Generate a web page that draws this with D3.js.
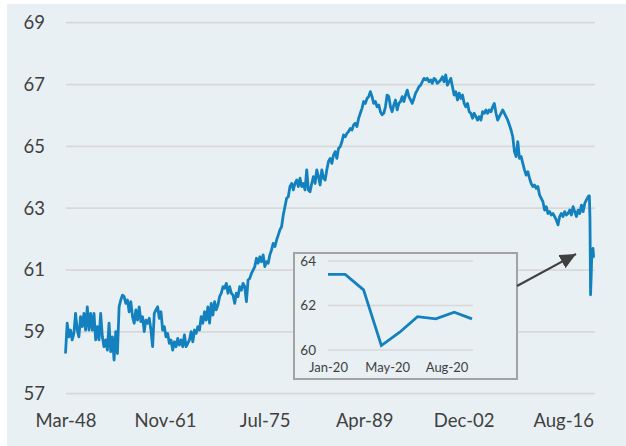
<!DOCTYPE html>
<html>
<head>
<meta charset="utf-8">
<script src="https://cdn.jsdelivr.net/npm/d3@7"></script>
<style>
  html, body { margin: 0; padding: 0; background: #ffffff; }
  svg { display: block; }
  text { font-family: Lato, "Open Sans", sans-serif; }
</style>
</head>
<body>
<svg id="chart" width="626" height="446"></svg>
<script>
// ---- Data ----
// x-axis tick labels and their month offsets from Mar-48
const tickLabels = ["Mar-48", "Nov-61", "Jul-75", "Apr-89", "Dec-02", "Aug-16"];
const tickMonths = [0, 164, 328, 492, 656, 820];
const yTicks = [57, 59, 61, 63, 65, 67, 69];

// Main series, sampled evenly from Mar-48 to Dec-19 (three consecutive stretches)
const seriesA = [
  58.30, 59.28, 58.84, 59.06, 58.74, 58.95, 59.60, 59.06, 58.84, 59.49,
  59.17, 59.60, 59.06, 59.81, 59.06, 59.60, 59.06, 59.60, 58.74, 59.17,
  58.74, 59.60, 58.84, 58.52, 58.74, 58.41, 59.28, 58.36, 58.84, 58.09,
  59.01, 58.30, 59.81, 60.03, 60.19, 60.14, 59.92, 60.03, 59.65, 59.98,
  59.49, 59.28, 59.71, 59.38, 59.81, 59.33, 59.49, 59.01, 59.38, 59.28,
  59.44, 59.06, 58.52, 59.60, 59.71, 59.81, 59.44, 59.65, 59.06, 59.17,
  58.84, 58.95, 58.63, 58.74, 58.41, 58.68, 58.52, 58.79, 58.57, 58.74,
  58.52, 58.90, 58.52, 58.63, 58.74, 59.01, 58.68, 59.06, 58.95, 59.17,
  59.06, 59.49, 59.28, 59.65, 59.38, 59.81, 59.28, 59.92, 59.54, 59.98,
  59.71, 59.87, 60.14, 60.25, 60.46, 60.41, 60.57, 60.25, 60.46, 60.25,
  60.19, 59.92, 60.25, 60.14, 60.46, 60.35, 60.57, 60.46, 59.98, 60.68,
  60.73, 60.89, 61.00
];
const seriesB = [
  61.11, 61.38, 61.22, 61.43, 61.27, 61.49, 61.11, 61.27, 61.22, 61.49,
  61.65, 61.86, 61.76, 61.97, 62.13, 62.30, 62.40, 62.78, 63.05, 63.32,
  63.37, 63.70, 63.80, 63.59, 63.80, 63.91, 63.70, 63.97, 63.70, 63.80,
  63.59, 64.24, 63.59, 63.53, 63.80, 64.02, 63.80, 64.24, 64.02, 63.75,
  64.24, 63.97, 63.91, 64.24, 64.51, 64.61, 64.45, 64.72, 64.83, 64.61,
  64.94, 64.99, 65.15, 65.37, 65.31, 65.42, 65.48, 65.58, 65.53, 65.69,
  65.75, 65.64, 65.91, 66.07, 66.23, 66.45, 66.39, 66.55, 66.61, 66.77,
  66.61, 66.39, 66.45, 66.28, 66.34, 66.12, 66.02, 66.07, 66.28, 66.66,
  66.61, 66.28, 66.12, 66.34, 66.50, 66.18, 66.39, 66.45, 66.61, 66.45,
  66.66, 66.82, 66.61, 66.50, 66.39, 66.55, 66.72, 66.82, 66.93, 66.98,
  67.09, 67.20, 67.15, 67.20, 67.09, 67.15, 67.04, 67.20, 67.15, 67.04,
  67.09
];
const seriesC = [
  67.15, 67.25, 67.09, 67.31, 66.98, 67.09, 67.20, 66.93, 66.66, 66.77,
  66.50, 66.72, 66.55, 66.66, 66.39, 66.28, 66.39, 66.12, 66.07, 65.91,
  66.07, 65.96, 65.85, 65.96, 65.85, 66.12, 66.07, 66.18, 66.07, 66.18,
  66.12, 66.28, 66.39, 66.07, 65.85, 65.96, 66.07, 66.18, 66.07, 65.96,
  65.85, 65.69, 65.53, 65.31, 64.83, 64.67, 65.15, 64.61, 64.67, 64.45,
  64.24, 64.07, 64.18, 63.97, 63.80, 63.70, 63.75, 63.64, 63.70, 63.43,
  63.32, 63.21, 62.94, 63.05, 62.83, 62.89, 62.78, 62.83, 62.73, 62.62,
  62.46, 62.73, 62.83, 62.73, 62.89, 62.78, 62.83, 62.94, 62.78, 63.05,
  62.89, 62.73, 62.94, 62.83, 63.10, 62.89, 63.16, 63.27, 63.37
];
// 2020 monthly values (month-end dates), also shown in the inset
const dates2020 = ["2020-01-31", "2020-02-29", "2020-03-31", "2020-04-30", "2020-05-31",
                   "2020-06-30", "2020-07-31", "2020-08-31", "2020-09-30"];
const values2020 = [63.4, 63.4, 62.7, 60.2, 60.8, 61.5, 61.4, 61.7, 61.4];
const insetTickDays = [0, 100, 200];   // date-axis major unit of 100 days
const insetYTicks = [60, 62, 64];

// ---- Build series with month offsets ----
const pre = seriesA.concat(seriesB, seriesC);
const lastPreMonth = 861; // Dec-19 relative to Mar-48
const mainData = pre.map((v, k) => ({ m: k * lastPreMonth / (pre.length - 1), v }))
  .concat(values2020.map((v, j) => ({ m: lastPreMonth + 1 + j, v })));

// ---- Drawing ----
const svg = d3.select("#chart");
const blue = "#1380c0";
const textCol = "#404040";
const gridCol = "#d8d8d8";
const bg = "#e8f0f3";
const font = "Lato, 'Open Sans', sans-serif";

svg.append("rect").attr("x", 7).attr("y", 4).attr("width", 619).attr("height", 442).attr("fill", bg);

const x = d3.scaleLinear().domain([0, 870]).range([65.5, 593.6]);
const y = d3.scaleLinear().domain([57, 69]).range([393.7, 22.7]);

// gridlines
svg.append("g").selectAll("line").data(yTicks).join("line")
  .attr("x1", 66).attr("x2", 595)
  .attr("y1", d => y(d)).attr("y2", d => y(d))
  .attr("stroke", gridCol).attr("stroke-width", 1.8);

// y axis labels
const yAxis = svg.append("g").attr("transform", "translate(66,0)")
  .call(d3.axisLeft(y).tickValues(yTicks).tickSize(0).tickPadding(21).tickFormat(d3.format("d")));
yAxis.select(".domain").remove();
yAxis.selectAll("text").attr("font-size", "18.5px").attr("fill", textCol).style("font-family", font);

// x axis labels
const xAxis = svg.append("g").attr("transform", "translate(0,393.7)")
  .call(d3.axisBottom(x).tickValues(tickMonths).tickSize(0).tickPadding(20.5)
    .tickFormat((d, i) => tickLabels[i]));
xAxis.select(".domain").remove();
xAxis.selectAll("text").attr("font-size", "18.5px").attr("fill", textCol).style("font-family", font);

// main line
const line = d3.line().x(d => x(d.m)).y(d => y(d.v)).curve(d3.curveLinear);
svg.append("path").datum(mainData)
  .attr("d", line).attr("fill", "none").attr("stroke", blue)
  .attr("stroke-width", 2.8).attr("stroke-linejoin", "round");

// ---- Inset ----
const parse = d3.utcParse("%Y-%m-%d");
const insetDates = dates2020.map(parse);
const ix = d3.scaleUtc().domain([insetDates[0], insetDates[insetDates.length - 1]]).range([328, 472]);
const iy = d3.scaleLinear().domain([60, 64]).range([350, 261]);
const inset = svg.append("g");
inset.append("rect").attr("x", 294).attr("y", 253).attr("width", 223).attr("height", 126)
  .attr("fill", bg).attr("stroke", "#a3a3a3").attr("stroke-width", 2);
inset.append("g").selectAll("line").data(insetYTicks).join("line")
  .attr("x1", 328).attr("x2", 473)
  .attr("y1", d => iy(d)).attr("y2", d => iy(d))
  .attr("stroke", gridCol).attr("stroke-width", 1.6);
const iyAxis = inset.append("g").attr("transform", "translate(328,0)")
  .call(d3.axisLeft(iy).tickValues(insetYTicks).tickSize(0).tickPadding(12).tickFormat(d3.format("d")));
iyAxis.select(".domain").remove();
iyAxis.selectAll("text").attr("font-size", "13.5px").attr("fill", textCol).style("font-family", font);
const insetTicks = insetTickDays.map(dd => d3.utcDay.offset(insetDates[0], dd));
const ixAxis = inset.append("g").attr("transform", "translate(0,350)")
  .call(d3.axisBottom(ix).tickValues(insetTicks).tickSize(0).tickPadding(13)
    .tickFormat(d3.utcFormat("%b-%y")));
ixAxis.select(".domain").remove();
ixAxis.selectAll("text").attr("font-size", "13px").attr("fill", textCol).style("font-family", font);
inset.append("path").datum(values2020)
  .attr("d", d3.line().x((d, i) => ix(insetDates[i])).y(d => iy(d)))
  .attr("fill", "none").attr("stroke", blue).attr("stroke-width", 2.8);

// ---- Arrow ----
const defs = svg.append("defs");
defs.append("marker").attr("id", "arrowhead")
  .attr("markerUnits", "userSpaceOnUse")
  .attr("markerWidth", 18).attr("markerHeight", 16)
  .attr("refX", 16).attr("refY", 7.5).attr("orient", "auto")
  .append("path").attr("d", "M0,0 L16,7.5 L0,15 Z").attr("fill", "#404040");
svg.append("line").attr("x1", 517).attr("y1", 286).attr("x2", 576).attr("y2", 254)
  .attr("stroke", "#404040").attr("stroke-width", 2).attr("marker-end", "url(#arrowhead)");
</script>
</body>
</html>
